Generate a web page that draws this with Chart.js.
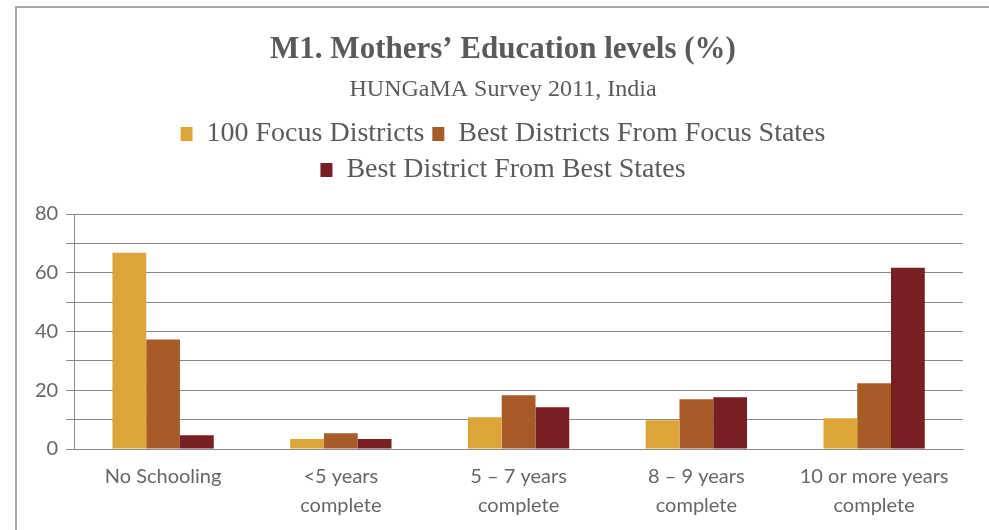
<!DOCTYPE html>
<html>
<head>
<meta charset="utf-8">
<script src="https://cdn.jsdelivr.net/npm/chart.js@4/dist/chart.umd.min.js"></script>
<style>
  html, body { margin: 0; padding: 0; background: #fff; }
  #frame {
    position: absolute; left: 15px; top: 6px;
    border-left: 2px solid #a8a8a8; border-top: 2px solid #a8a8a8;
    width: 972px; height: 522px;
  }
  #frame canvas { display: block; }
</style>
</head>
<body>
<div id="frame"><canvas id="myChart" width="972" height="522"></canvas></div>
<script>
// data
var categories = [
    ['No Schooling'],
    ['<5 years', 'complete'],
    ['5 – 7 years', 'complete'],
    ['8 – 9 years', 'complete'],
    ['10 or more years', 'complete']
];
var seriesNames = ['100 Focus Districts', 'Best Districts From Focus States', 'Best District From Best States'];
var focusDistricts = [66.8, 3.4, 10.8, 9.8, 10.5];
var bestFromFocusStates = [37.3, 5.4, 18.3, 16.9, 22.4];
var bestFromBestStates = [4.7, 3.4, 14.2, 17.6, 61.7];
var yTickLabels = [0, 20, 40, 60, 80];

var colors = ['#dda539', '#a75c28', '#771f22'];
var textGrey = '#666666';

// push the plot down a bit under the legend
var legendGap = {
    id: 'legendGap',
    beforeInit: function(chart) {
        var fit = chart.legend.fit;
        chart.legend.fit = function() {
            fit.bind(chart.legend)();
            this.height += 20;
        };
    },
    // center title, subtitle and legend on the whole canvas, not the padded area
    afterLayout: function(chart) {
        chart.boxes.forEach(function(box) {
            if (box.position === 'top') {
                box.left = 0;
                box.right = chart.width;
                box.width = chart.width;
            }
        });
    }
};

var ctx = document.getElementById('myChart').getContext('2d');
var myChart = new Chart(ctx, {
    type: 'bar',
    data: {
        labels: categories,
        datasets: [{
            label: seriesNames[0],
            data: focusDistricts,
            backgroundColor: colors[0]
        }, {
            label: seriesNames[1],
            data: bestFromFocusStates,
            backgroundColor: colors[1]
        }, {
            label: seriesNames[2],
            data: bestFromBestStates,
            backgroundColor: colors[2]
        }]
    },
    plugins: [legendGap],
    options: {
        responsive: false,
        animation: false,
        layout: { padding: { top: 10, right: 26, bottom: 5, left: 10 } },
        datasets: { bar: { categoryPercentage: 0.57, barPercentage: 1.0 } },
        plugins: {
            title: {
                display: true,
                text: 'M1. Mothers’ Education levels (%)',
                color: '#5a5a5a',
                font: { family: 'Liberation Serif', size: 31, weight: 'bold' },
                padding: { top: 13, bottom: 7 }
            },
            subtitle: {
                display: true,
                text: 'HUNGaMA Survey 2011, India',
                color: '#5a5a5a',
                font: { family: 'Liberation Serif', size: 24 },
                padding: { top: 0, bottom: 8 }
            },
            legend: {
                labels: {
                    color: '#5a5a5a',
                    font: { family: 'Liberation Serif', size: 28 },
                    boxWidth: 12,
                    boxHeight: 14,
                    padding: 8
                }
            },
            tooltip: { enabled: false }
        },
        scales: {
            x: {
                grid: { display: false },
                border: { display: true, color: '#8a8a8a' },
                ticks: {
                    color: textGrey,
                    font: { family: 'Lato', size: 20, lineHeight: 1.45 },
                    padding: 5,
                    maxRotation: 0
                }
            },
            y: {
                min: 0,
                max: yTickLabels[yTickLabels.length - 1],
                border: { display: true, color: '#8a8a8a' },
                grid: { color: '#8a8a8a', tickLength: 8 },
                ticks: {
                    stepSize: 10,
                    color: textGrey,
                    font: { family: 'Lato', size: 20 },
                    padding: 8,
                    callback: function(v) {
                        return yTickLabels.indexOf(v) >= 0 ? v : '';
                    }
                }
            }
        }
    }
});
</script>
</body>
</html>
